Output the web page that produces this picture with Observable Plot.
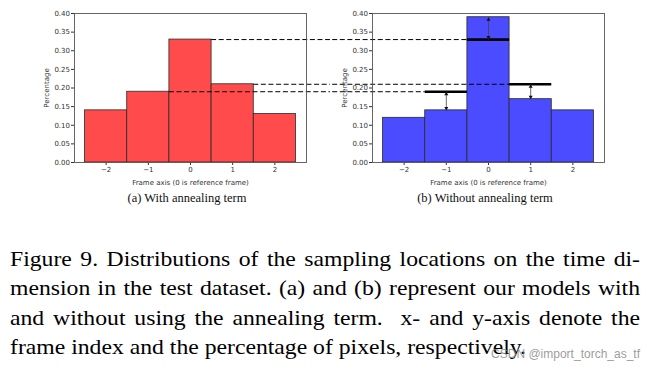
<!DOCTYPE html>
<html>
<head>
<meta charset="utf-8">
<script src="https://cdn.jsdelivr.net/npm/d3@7"></script>
<script src="https://cdn.jsdelivr.net/npm/@observablehq/plot@0.6"></script>
<style>
  html, body { margin: 0; padding: 0; background: #fff; }
  #wrap { position: relative; width: 657px; height: 373px; overflow: hidden; background: #fff; }
  .panel { position: absolute; top: 0; }
  .sub { position: absolute; top: 192px; font-family: "Liberation Serif", "Times New Roman", serif; font-size: 12.5px; line-height: 1; color: #111; white-space: nowrap; transform: translateX(-50%); }
  #cap { position: absolute; left: 10px; top: 245px; transform-origin: 0 0; font-family: "Liberation Serif", "Times New Roman", serif; font-size: 21.5px; line-height: 29.4px; color: #000; }
  #cap div { white-space: pre; }
  #cap span { white-space: pre; }
  #wm { position: absolute; right: 17px; top: 348px; font-family: "Liberation Sans", Arial, sans-serif; font-size: 12px; line-height: 1; color: rgba(130,130,130,0.8); white-space: nowrap; }
</style>
</head>
<body>
<div id="wrap">
  <div id="pa" class="panel" style="left:0px"></div>
  <div id="pb" class="panel" style="left:330px"></div>
  <div id="sa" class="sub" style="left:187px"></div>
  <div id="sb" class="sub" style="left:485px"></div>
  <div id="cap"></div>
  <div id="wm"></div>
</div>
<script>
// ---- data ----
const frames = [-2, -1, 0, 1, 2];
const withAnnealing = [0.14, 0.19, 0.33, 0.21, 0.13];
const withoutAnnealing = [0.12, 0.14, 0.39, 0.17, 0.14];
const markedFrames = [-1, 0, 1];
const xTicks = [-2, -1, 0, 1, 2];
const yTicks = [0, 0.05, 0.10, 0.15, 0.20, 0.25, 0.30, 0.35, 0.40];
const xLabel = "Frame axis (0 is reference frame)";
const yLabel = "Percentage";
const subCaptions = ["(a) With annealing term", "(b) Without annealing term"];
const captionLines = [
  "Figure 9. Distributions of the sampling locations on the time di-",
  "mension in the test dataset. (a) and (b) represent our models with",
  "and without using the annealing term.  x- and y-axis denote the",
  "frame index and the percentage of pixels, respectively."
];
const watermark = "CSDN @import_torch_as_tf";

// ---- tables ----
const rowsA = frames.map((f, i) => ({frame: f, value: withAnnealing[i]}));
const rowsB = frames.map((f, i) => ({frame: f, value: withoutAnnealing[i]}));
const refs = markedFrames.map(f => {
  const i = frames.indexOf(f);
  return {frame: f, ref: withAnnealing[i], val: withoutAnnealing[i]};
});

const dash = {stroke: "#000", strokeWidth: 1, strokeDasharray: "5,2.6"};

function panel(width, marginLeft, marginRight, fill, extra) {
  return Plot.plot({
    width, height: 190,
    marginTop: 13, marginBottom: 28, marginLeft, marginRight,
    x: {domain: [-2.75, 2.75]},
    y: {domain: [0, 0.4]},
    style: {fontFamily: "DejaVu Sans, sans-serif", fontSize: "7px", color: "#333", background: "transparent", overflow: "hidden"},
    marks: [
      Plot.rectY(fill === "red" ? rowsA : rowsB, {
        x1: d => d.frame - 0.5, x2: d => d.frame + 0.5, y: "value",
        fill: fill === "red" ? "#ff4b4b" : "#4b4bff", stroke: "#2a2a2a", strokeWidth: 0.8
      }),
      ...extra,
      Plot.axisX({ticks: xTicks, tickFormat: d3.format("d"), tickSize: 3, tickPadding: 2, label: xLabel, labelAnchor: "center", labelOffset: 22, labelArrow: "none"}),
      Plot.axisY({ticks: yTicks, tickFormat: ".2f", tickSize: 3, tickPadding: 1.5, label: yLabel, labelAnchor: "center", labelOffset: 30, labelArrow: "none"}),
      Plot.frame({stroke: "#555", strokeWidth: 0.9})
    ]
  });
}

const plotA = panel(330, 74, 24, "red", [
  Plot.ruleY(refs, {y: "ref", x1: d => d.frame + 0.5, x2: 10, ...dash})
]);

const plotB = panel(327, 42, 53, "blue", [
  Plot.ruleY(refs, {y: "ref", x1: -10, x2: d => d.frame - 0.5, ...dash}),
  Plot.ruleY(refs, {y: "ref", x1: d => d.frame - 0.5, x2: d => d.frame + 0.5, stroke: "#000", strokeWidth: 2.6}),
  Plot.link(refs, {x1: "frame", x2: "frame", y1: "ref", y2: "val", stroke: "#444", strokeWidth: 0.8}),
  Plot.dot(refs, {x: "frame", y: d => Math.max(d.ref, d.val), symbol: "triangle", r: 1.5, fill: "#111", stroke: null, dy: 2.3}),
  Plot.dot(refs, {x: "frame", y: d => Math.min(d.ref, d.val), symbol: "triangle", r: 1.5, rotate: 180, fill: "#111", stroke: null, dy: -2.3})
]);

document.getElementById("pa").appendChild(plotA);
document.getElementById("pb").appendChild(plotB);
document.getElementById("sa").textContent = subCaptions[0];
document.getElementById("sb").textContent = subCaptions[1];

// caption: justified lines via measured word-spacing, horizontally stretched like the reference
const cap = document.getElementById("cap");
const spans = captionLines.map(t => {
  const div = document.createElement("div");
  const span = document.createElement("span");
  span.textContent = t;
  div.appendChild(span);
  cap.appendChild(div);
  return span;
});
const lastW = spans[spans.length - 1].getBoundingClientRect().width;
const scale = 516 / lastW;
const target = 630 / scale;
spans.forEach((s, i) => {
  if (i === spans.length - 1) return;
  const w = s.getBoundingClientRect().width;
  const n = (captionLines[i].match(/ /g) || []).length;
  s.style.wordSpacing = ((target - w) / n) + "px";
});
cap.style.transform = "scaleX(" + scale + ")";
document.getElementById("wm").textContent = watermark;
</script>
</body>
</html>
